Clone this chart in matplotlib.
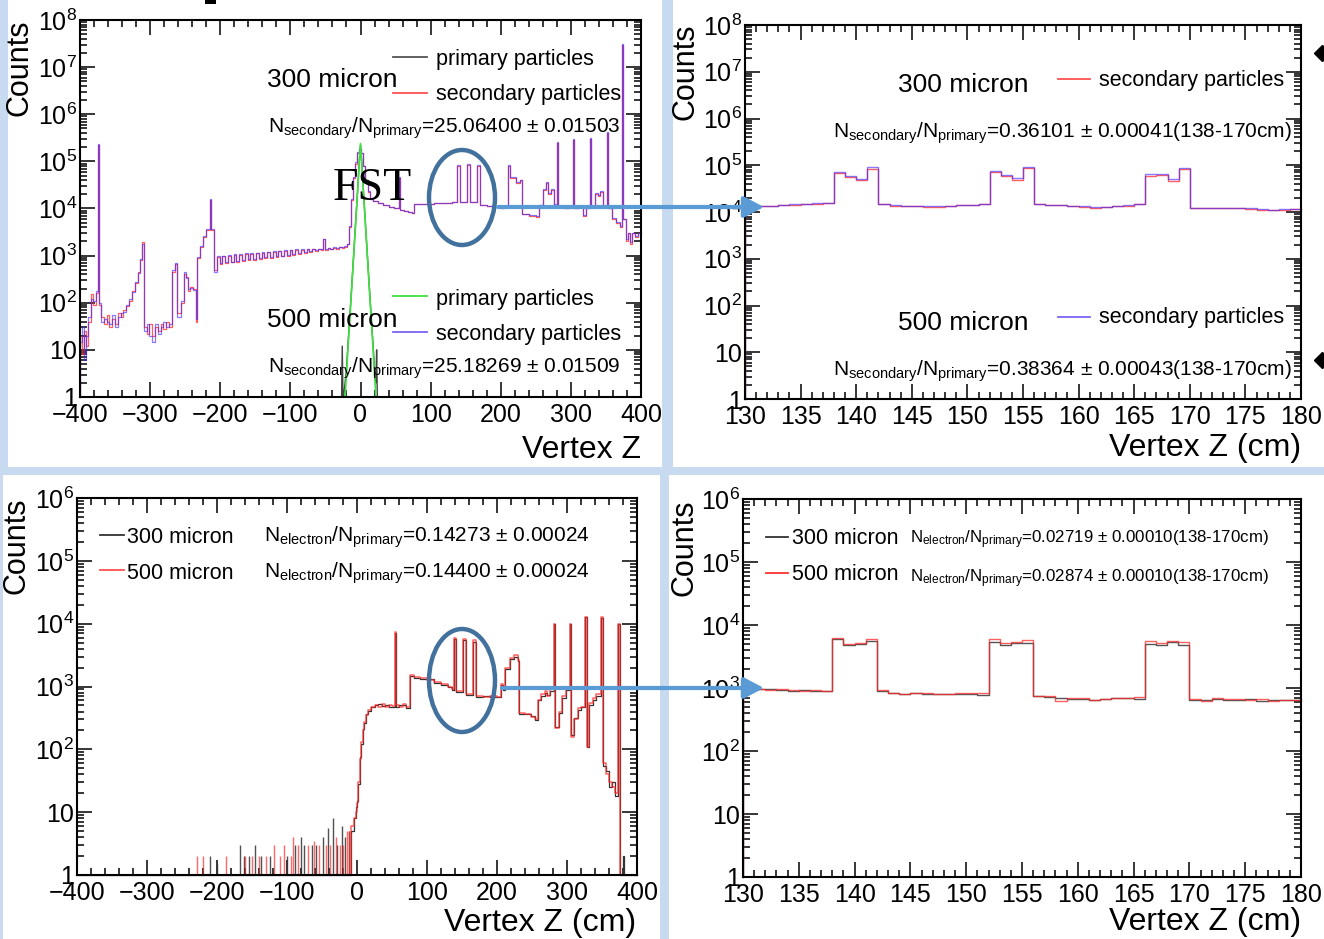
import numpy as np
import matplotlib
matplotlib.use("Agg")
import matplotlib.pyplot as plt
from matplotlib.patches import Rectangle, Ellipse, FancyArrowPatch
from matplotlib.lines import Line2D
from matplotlib.ticker import MultipleLocator, LogLocator, NullFormatter

plt.rcParams["font.family"] = ["Liberation Sans", "DejaVu Sans"]
plt.rcParams["mathtext.fontset"] = "custom"
plt.rcParams["mathtext.rm"] = "Liberation Sans"
plt.rcParams["mathtext.it"] = "Liberation Sans:italic"
plt.rcParams["mathtext.bf"] = "Liberation Sans:bold"

# ---------------- data ----------------
# top left: secondary particles, full range (bin left edges, counts)
tl_z = [
    -400, -397, -394, -391, -388, -385, -381, -377, -375, -373,
    -370, -366, -362, -358, -354, -350, -346, -342, -338, -334,
    -330, -326, -322, -318, -315, -312, -309, -305, -301, -297,
    -293, -289, -285, -281, -277, -273, -269, -265, -261, -256,
    -252, -249, -246, -243, -239, -235, -233, -229, -225, -220,
    -215, -213, -209, -205, -201, -197, -193, -189, -185, -181,
    -177, -173, -169, -165, -161, -157, -153, -149, -145, -141,
    -137, -133, -129, -125, -121, -117, -113, -109, -105, -101,
    -97, -93, -89, -85, -81, -77, -73, -69, -65, -61,
    -57, -53, -51, -47, -43, -39, -35, -31, -27, -23,
    -19, -17, -14, -11, -8, -5, -2, 1, 4, 7,
    10, 13, 18, 25, 32, 40, 48, 55, 57, 62,
    68, 74, 77, 90, 105, 120, 130, 138, 142, 152,
    156, 166, 170, 180, 190, 200, 205, 211, 213, 222,
    228, 231, 240, 250, 255, 260, 265, 268, 272, 276,
    280, 282, 290, 298, 303, 305, 312, 318, 322, 327,
    329, 334, 338, 342, 346, 351, 353, 358, 364, 370,
    373, 375, 378, 381, 384, 387, 392, 396,
]
tl_sec_300 = [
    20, 8, 25, 12, 40, 150, 90, 160, 2.2e5, 90,
    50, 35, 55, 30, 45, 35, 60, 50, 70, 85,
    110, 180, 260, 450, 800, 1900, 30, 22, 35, 20,
    30, 25, 35, 28, 40, 30, 450, 650, 60, 100,
    400, 350, 180, 220, 200, 40, 900, 1500, 2500, 3500,
    1.5e4, 3500, 500, 950, 650, 1000, 700, 1000, 720, 1050,
    750, 1050, 780, 1100, 800, 1100, 820, 1150, 850, 1150,
    880, 1200, 900, 1200, 950, 1250, 980, 1250, 1000, 1300,
    1050, 1300, 1100, 1300, 1150, 1350, 1200, 1350, 1250, 1400,
    1300, 2200, 1300, 1450, 1350, 1450, 1400, 1500, 1450, 1550,
    1800, 4000, 1.5e4, 4.5e4, 9e4, 1.5e5, 1.8e5, 1.5e5, 8e4, 4e4,
    2.2e4, 1.6e4, 1.45e4, 1.3e4, 1.2e4, 1.1e4, 1.0e4, 4.5e4, 9.5e3, 9e3,
    8.5e3, 8e3, 1.25e4, 1.25e4, 1.3e4, 1.3e4, 1.35e4, 8e4, 1.4e4, 8.5e4,
    1.35e4, 8e4, 1.2e4, 1.15e4, 1.1e4, 1.05e4, 1.1e4, 8e4, 4.5e4, 3.5e4,
    4e4, 7.5e3, 7e3, 6.5e3, 1.2e4, 2.5e4, 3.5e4, 2e4, 2.5e4, 1.2e4,
    2.5e5, 1.1e4, 1e4, 1.1e4, 2.9e5, 1e4, 1.1e4, 7e3, 1e4, 3e5,
    1.1e4, 2e4, 1.8e4, 2.2e4, 1.1e4, 4e5, 1e4, 6e3, 5e3, 4e3,
    3e7, 6e3, 2e3, 3e3, 1.8e3, 3e3, 2.5e3, 3e3,
]
tl_sec_500 = [
    15, 30, 6, 20, 50, 120, 110, 180, 2.3e5, 100,
    40, 45, 40, 35, 55, 30, 50, 60, 65, 90,
    120, 170, 280, 420, 850, 1800, 25, 35, 20, 15,
    35, 22, 30, 40, 30, 35, 500, 700, 50, 110,
    450, 330, 200, 210, 190, 45, 950, 1600, 2600, 3600,
    1.6e4, 3700, 450, 980, 700, 1000, 720, 1050, 740, 1080,
    770, 1100, 800, 1120, 830, 1150, 850, 1150, 900, 1200,
    920, 1200, 950, 1250, 980, 1250, 1000, 1300, 1050, 1300,
    1100, 1350, 1150, 1350, 1200, 1350, 1250, 1400, 1300, 1400,
    1350, 2300, 1350, 1450, 1400, 1500, 1450, 1500, 1500, 1600,
    1800, 4200, 1.6e4, 4.6e4, 9.5e4, 1.55e5, 1.8e5, 1.5e5, 8e4, 4.1e4,
    2.3e4, 1.6e4, 1.45e4, 1.3e4, 1.2e4, 1.1e4, 1.0e4, 4.6e4, 9.5e3, 9e3,
    8.5e3, 8e3, 1.25e4, 1.25e4, 1.3e4, 1.32e4, 1.38e4, 8.5e4, 1.4e4, 9e4,
    1.38e4, 8.5e4, 1.2e4, 1.15e4, 1.1e4, 1.05e4, 1.1e4, 8.5e4, 4.6e4, 3.6e4,
    4.1e4, 7.8e3, 7.2e3, 6.8e3, 1.2e4, 2.6e4, 3.6e4, 2.1e4, 2.6e4, 1.25e4,
    2.6e5, 1.1e4, 1e4, 1.1e4, 3e5, 1e4, 1.1e4, 7.2e3, 1e4, 3.1e5,
    1.1e4, 2.1e4, 1.9e4, 2.3e4, 1.1e4, 4.2e5, 1e4, 6.2e3, 5.2e3, 4.2e3,
    3.1e7, 6e3, 2.2e3, 3e3, 1.9e3, 3e3, 2.6e3, 3e3,
]
# top left: primary particles around the target
prim_z = [-400, -27, -26, -25, -24, -22, -20, -18, -16, -14, -12, -10, -8, -6, -4, -2,
          0, 2, 4, 6, 8, 10, 12, 14, 16, 18, 20, 22, 23, 24, 400]
prim_300 = [1, 1, 12, 1, 1, 2, 4, 12, 35, 100, 300, 900, 2800, 8500, 2.6e4, 8.5e4,
            2.2e5, 8.5e4, 2.6e4, 8500, 2800, 900, 300, 100, 35, 12, 4, 2, 10, 1, 1]
prim_500 = [1, 1, 1, 1, 1, 1, 3, 10, 30, 90, 280, 870, 2700, 8000, 2.5e4, 8e4,
            2.4e5, 8e4, 2.5e4, 8000, 2700, 870, 280, 90, 30, 10, 3, 1, 1, 1, 1]

# top right: zoom 130-180 cm, 1 cm bins
tr_bins = list(range(130, 180))
tr_sec_300 = [
    1.30e4, 1.32e4, 1.35e4, 1.38e4, 1.42e4, 1.45e4, 1.5e4, 1.55e4,
    6.8e4, 5.6e4, 4.8e4, 8.3e4,
    1.45e4, 1.35e4, 1.35e4, 1.33e4, 1.3e4, 1.3e4, 1.35e4, 1.38e4, 1.42e4, 1.45e4,
    7.2e4, 5.8e4, 4.9e4, 8.8e4,
    1.45e4, 1.4e4, 1.38e4, 1.35e4, 1.3e4, 1.2e4, 1.25e4, 1.35e4, 1.35e4, 1.45e4,
    6.0e4, 6.2e4, 4.5e4, 8.3e4,
    1.2e4, 1.22e4, 1.2e4, 1.2e4, 1.22e4, 1.18e4, 1.12e4, 1.1e4, 1.12e4, 1.15e4,
]
tr_sec_500 = [
    1.32e4, 1.33e4, 1.36e4, 1.4e4, 1.45e4, 1.48e4, 1.52e4, 1.58e4,
    7.3e4, 5.9e4, 5.2e4, 9.0e4,
    1.48e4, 1.38e4, 1.37e4, 1.36e4, 1.33e4, 1.34e4, 1.36e4, 1.4e4, 1.43e4, 1.48e4,
    7.6e4, 6.3e4, 5.3e4, 9.3e4,
    1.47e4, 1.42e4, 1.4e4, 1.36e4, 1.32e4, 1.26e4, 1.3e4, 1.36e4, 1.38e4, 1.47e4,
    6.4e4, 6.5e4, 5.0e4, 8.9e4,
    1.23e4, 1.24e4, 1.22e4, 1.22e4, 1.24e4, 1.2e4, 1.15e4, 1.12e4, 1.14e4, 1.18e4,
]

# bottom left: electrons, full range
bl_z = [
    -400, -8, -5, -2, 0, 2, 4, 6, 8, 10,
    13, 16, 20, 25, 30, 35, 40, 45, 50, 54,
    56, 60, 65, 70, 76, 82, 90, 100, 110, 120,
    130, 135, 138, 142, 152, 156, 166, 170, 180, 190,
    200, 205, 208, 212, 218, 224, 230, 232, 240, 248,
    254, 258, 263, 268, 272, 276, 281, 283, 288, 293,
    298, 304, 306, 310, 315, 320, 326, 328, 332, 337,
    342, 348, 351, 355, 360, 364, 368, 373, 375, 380,
    382,
]
bl_500 = [
    1, 6, 8, 10, 14, 30, 70, 130, 200, 270,
    350, 420, 480, 510, 480, 520, 470, 510, 490, 7500,
    500, 480, 520, 470, 1500, 1400, 1350, 1250, 1200, 1100,
    1000, 900, 6000, 850, 5800, 750, 5500, 700, 680, 700,
    680, 1100, 900, 2000, 2800, 3200, 2600, 380, 370, 330,
    300, 600, 750, 850, 700, 900, 1e4, 220, 400, 700,
    900, 1e4, 160, 300, 450, 480, 1.3e4, 110, 550, 650,
    750, 1.3e4, 60, 40, 30, 25, 20, 1e4, 1, 1,
    1,
]
bl_300 = [
    1, 5, 8, 12, 15, 28, 75, 120, 210, 260,
    360, 410, 470, 500, 520, 490, 500, 480, 470, 7000,
    480, 500, 500, 460, 1450, 1350, 1300, 1300, 1150, 1050,
    980, 880, 5800, 830, 5500, 740, 5200, 680, 700, 680,
    690, 1050, 880, 1900, 2700, 3000, 2500, 370, 360, 340,
    290, 620, 700, 800, 720, 850, 1e4, 230, 380, 650,
    880, 1e4, 170, 320, 430, 470, 1.3e4, 110, 500, 600,
    700, 1.25e4, 55, 45, 25, 30, 18, 1e4, 1, 2,
    1,
]
# sparse low-count bins upstream of the target
spk_500_z = [-229, -220, -187, -160, -150, -140, -130, -118, -110, -105, -95, -91,
             -85, -70, -62, -55, -45, -38, -30, -25, -20, -15, -11]
spk_500_h = [2, 2, 2, 2, 2, 2, 2, 3, 2, 3, 2, 4, 3, 3, 3.5, 3, 3, 3, 4, 3, 3, 5, 5]
spk_300_z = [-210, -200, -167, -162, -155, -146, -137, -125, -100, -88, -80, -76,
             -65, -58, -48, -41, -35, -28, -22, -17, -12]
spk_300_h = [2, 1.5, 3, 2, 2, 3, 2, 2, 2, 3, 4, 3, 3, 3, 4, 5.5, 8, 3, 6, 4, 5]

# bottom right: electrons zoom 130-180 cm
br_bins = list(range(130, 180))
br_300 = [
    980, 960, 950, 930, 900, 920, 910, 910,
    5.9e3, 4.8e3, 5.0e3, 5.6e3,
    900, 820, 800, 820, 810, 790, 800, 810, 810, 780,
    5.4e3, 4.8e3, 5.1e3, 5.1e3,
    740, 730, 700, 680, 660, 650, 670, 690, 700, 660,
    5.0e3, 4.8e3, 5.3e3, 4.9e3,
    650, 640, 670, 650, 650, 660, 620, 640, 650, 640,
]
br_500 = [
    1000, 950, 940, 960, 920, 900, 920, 910,
    6.2e3, 5.0e3, 5.1e3, 6.1e3,
    920, 840, 810, 830, 820, 790, 810, 820, 830, 830,
    5.9e3, 5.1e3, 5.4e3, 5.7e3,
    760, 740, 620, 700, 690, 640, 680, 700, 690, 720,
    5.5e3, 5.1e3, 5.6e3, 5.4e3,
    680, 620, 700, 680, 660, 640, 660, 620, 640, 650,
]

# ---------------- figure ----------------
W, H = 1324, 939
fig = plt.figure(figsize=(W / 100, H / 100), dpi=100, facecolor="#c7daef")


def fx(x):
    return x / W


def fy(y):
    return 1 - y / H


def add_rect(x0, y0, x1, y1, **kw):
    fig.add_artist(Rectangle((fx(x0), fy(y1)), (x1 - x0) / W, (y1 - y0) / H,
                             transform=fig.transFigure, **kw))


def px_axes(x0, y0, x1, y1):
    return fig.add_axes([fx(x0), fy(y1), (x1 - x0) / W, (y1 - y0) / H])


def hstep(ax, edges, values, xend, **kw):
    # ROOT-like outline: rises from the bottom at the first edge
    x = [edges[0]] + list(edges) + [xend]
    y = [1] + list(values) + [values[-1]]
    ax.step(x, y, where="post", clip_on=False, **kw)


def style(ax, xlim, xmajor, xminor, ymax_exp):
    ax.set_xlim(*xlim)
    ax.set_yscale("log")
    ax.set_ylim(1, 10 ** ymax_exp)
    ax.xaxis.set_major_locator(MultipleLocator(xmajor))
    ax.xaxis.set_minor_locator(MultipleLocator(xminor))
    yt = [10 ** k for k in range(ymax_exp + 1)]
    ylab = ["1", "10"] + [r"$\mathregular{10^{%d}}$" % k for k in range(2, ymax_exp + 1)]
    ax.set_yticks(yt, ylab)
    ax.yaxis.set_minor_locator(LogLocator(base=10, subs=np.arange(2, 10), numticks=20))
    ax.yaxis.set_minor_formatter(NullFormatter())
    ax.tick_params(which="both", direction="in", top=True, right=True,
                   width=1.1, labelsize=18)
    ax.tick_params(which="major", length=10.5)
    ax.tick_params(which="minor", length=5)
    ax.tick_params(axis="x", pad=4)
    ax.tick_params(axis="y", pad=2)
    for s in ax.spines.values():
        s.set_linewidth(1.5)


def ftext(x, y, s, size=15.5, **kw):
    kw.setdefault("va", "baseline")
    kw.setdefault("ha", "left")
    fig.text(fx(x), fy(y), s, fontsize=size, **kw)


def fline(x0, x1, y, color):
    fig.add_artist(Line2D([fx(x0), fx(x1)], [fy(y), fy(y)],
                          transform=fig.transFigure, color=color, lw=1.3))


# white slide panels
add_rect(8, 0, 662, 467, facecolor="white", edgecolor="none", zorder=-5)
add_rect(673, 0, 1324, 467, facecolor="white", edgecolor="none", zorder=-5)
add_rect(3, 475, 660, 939, facecolor="white", edgecolor="none", zorder=-5)
add_rect(669, 475, 1324, 939, facecolor="white", edgecolor="none", zorder=-5)
add_rect(205, 0, 216, 4, facecolor="black", edgecolor="none", zorder=-4)

RED = "#ff2a2a"
BLUE = "#3d22ff"
GREEN = "#3ee23e"

# ---- top left ----
ax1 = px_axes(80, 20, 641, 397)
ax1.plot(prim_z, prim_300, color="#444444", lw=1)
hstep(ax1, tl_z, tl_sec_300, 400, color=RED, lw=0.9, alpha=0.75)
hstep(ax1, tl_z, tl_sec_500, 400, color=BLUE, lw=0.9, alpha=0.6)
ax1.plot(prim_z, prim_500, color=GREEN, lw=1.2, clip_on=False)
style(ax1, (-400, 400), 100, 20, 8)

# ---- top right ----
ax2 = px_axes(745, 25, 1301, 399)
hstep(ax2, tr_bins, tr_sec_300, 180, color=RED, lw=1, alpha=0.75)
hstep(ax2, tr_bins, tr_sec_500, 180, color=BLUE, lw=1, alpha=0.6)
style(ax2, (130, 180), 5, 1, 8)

# ---- bottom left ----
ax3 = px_axes(77, 498, 637, 875)
ax3.vlines(spk_300_z, 1, spk_300_h, color="#333333", lw=1, alpha=0.85)
ax3.vlines(spk_500_z, 1, spk_500_h, color=RED, lw=1, alpha=0.7)
hstep(ax3, bl_z, bl_300, 400, color="#333333", lw=0.9)
hstep(ax3, bl_z, bl_500, 400, color=RED, lw=1.1, alpha=0.75)
style(ax3, (-400, 400), 100, 20, 6)

# ---- bottom right ----
ax4 = px_axes(743, 499, 1301, 877)
hstep(ax4, br_bins, br_300, 180, color="#555555", lw=1)
hstep(ax4, br_bins, br_500, 180, color=RED, lw=1, alpha=0.75)
style(ax4, (130, 180), 5, 1, 6)

# axis titles
for cx, top in [(20, 20), (685, 23), (17, 498), (684, 500)]:
    ftext(cx, top, "Counts", size=22, rotation=90, ha="center", va="top")
ftext(641, 458, "Vertex Z", size=23, ha="right")
ftext(1301, 456, "Vertex Z (cm)", size=23, ha="right")
ftext(636, 931, "Vertex Z (cm)", size=23, ha="right")
ftext(1301, 930, "Vertex Z (cm)", size=23, ha="right")

# top left legends
fline(393, 427, 57, "#555555")
ftext(436, 65, "primary particles")
ftext(267, 87, "300 micron", size=19)
fline(393, 427, 93, "#ff5050")
ftext(436, 100, "secondary particles")
ftext(268, 133, r"$\mathregular{N_{secondary}/N_{primary}}$=25.06400 ± 0.01503", size=15)
fline(393, 427, 296, GREEN)
ftext(436, 305, "primary particles")
ftext(267, 327, "500 micron", size=19)
fline(393, 427, 332, "#7a66f5")
ftext(436, 340, "secondary particles")
ftext(268, 373, r"$\mathregular{N_{secondary}/N_{primary}}$=25.18269 ± 0.01509", size=15)
ftext(333, 200, "FST", size=33, family="Liberation Serif")

# top right legends
ftext(898, 92, "300 micron", size=19)
fline(1058, 1090, 79, "#ff5050")
ftext(1099, 86, "secondary particles")
ftext(833, 138, r"$\mathregular{N_{secondary}/N_{primary}}$=0.36101 ± 0.00041(138-170cm)",
      size=15)
ftext(898, 330, "500 micron", size=19)
fline(1058, 1090, 317, "#7a66f5")
ftext(1099, 323, "secondary particles")
ftext(833, 376, r"$\mathregular{N_{secondary}/N_{primary}}$=0.38364 ± 0.00043(138-170cm)",
      size=15)

# bottom left legends
fline(100, 124, 535, "#333333")
ftext(127, 543, "300 micron")
ftext(264, 542, r"$\mathregular{N_{electron}/N_{primary}}$=0.14273 ± 0.00024", size=15)
fline(100, 124, 570, "#ff5050")
ftext(127, 579, "500 micron")
ftext(264, 578, r"$\mathregular{N_{electron}/N_{primary}}$=0.14400 ± 0.00024", size=15)

# bottom right legends
fline(766, 788, 537, "#333333")
ftext(792, 544, "300 micron")
ftext(910, 543, r"$\mathregular{N_{electron}/N_{primary}}$=0.02719 ± 0.00010(138-170cm)",
      size=12.2)
fline(766, 788, 573, "#ff3030")
ftext(792, 580, "500 micron")
ftext(910, 582, r"$\mathregular{N_{electron}/N_{primary}}$=0.02874 ± 0.00010(138-170cm)",
      size=12.2)

# annotations: circled FST stations and arrows to zoomed views
for cy, h in [(197.5, 95), (680.5, 103)]:
    fig.add_artist(Ellipse((fx(462), fy(cy)), 66 / W, h / H, transform=fig.transFigure,
                           fill=False, ec="#41719c", lw=3.2, zorder=20))
for x0, y in [(498, 207), (502, 688)]:
    fig.add_artist(FancyArrowPatch((fx(x0), fy(y)), (fx(764), fy(y)),
                                   transform=fig.transFigure,
                                   arrowstyle="-|>,head_length=0.8,head_width=0.42",
                                   mutation_scale=15, lw=3, color="#5b9bd5",
                                   shrinkA=0, shrinkB=0, zorder=21))

# slide bullets cut at the right edge
for y in [53, 360]:
    fig.add_artist(Line2D([fx(1322)], [fy(y)], marker="D", ms=8, color="black",
                          transform=fig.transFigure))

fig.savefig("out.png", dpi=100, facecolor=fig.get_facecolor())
